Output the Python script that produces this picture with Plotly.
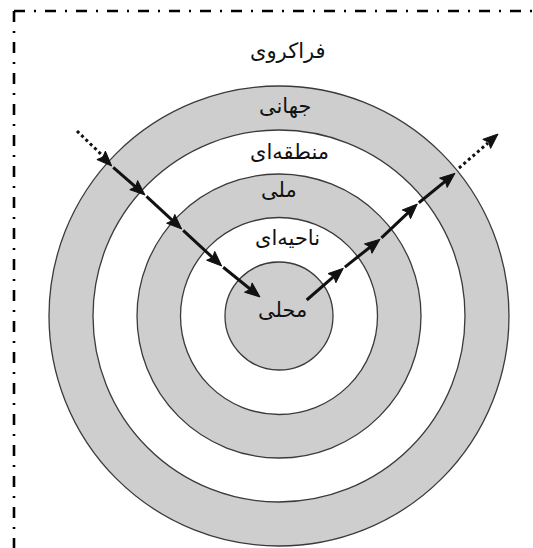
import math
import plotly.graph_objects as go

# ---------------- data ----------------
W, H = 533, 548
center = (279, 316)
ring_radii = [230, 186, 142, 98.5, 54]          # outer -> inner circle radius (px units)
ring_fills = ["#cecece", "#ffffff", "#cecece", "#ffffff", "#cecece"]

labels = ["فراکروی", "جهانی", "منطقه‌ای", "ملی", "ناحیه‌ای", "محلی"]
label_x = [288, 285, 289, 279, 287, 282]
label_y = [51, 106, 152, 190, 238, 310]

# inward path (top-left -> centre)
in_dot_x = [77, 104]
in_dot_y = [131, 157]
in_tip_x = [111.7, 145, 181.7, 221.7, 260]
in_tip_y = [166, 195, 229, 266, 297]

# outward path (centre -> top-right)
out_start_x = [306.7]
out_start_y = [300]
out_tip_x = [343.3, 380, 417.3, 455]
out_tip_y = [268.3, 239.3, 204, 173.3]
out_dot_x = [459, 488]
out_dot_y = [168, 143]
out_head_x = [498]
out_head_y = [134]

border_top_y = 11
border_left_x = 14

HEAD_LEN, HEAD_HALF, NOTCH = 15, 6, 2.5
LINE_W = 3

# ---------------- figure ----------------
fig = go.Figure()
shapes = []
cx, cy = center
for r, f in zip(ring_radii, ring_fills):
    shapes.append(dict(type="circle", xref="x", yref="y",
                       x0=cx - r, x1=cx + r, y0=cy - r, y1=cy + r,
                       fillcolor=f, line=dict(color="#3a3a3a", width=1.3),
                       layer="below"))

dashdot = "11px,9px,2px,9px"
shapes.append(dict(type="line", xref="x", yref="y", x0=border_left_x, x1=W,
                   y0=border_top_y, y1=border_top_y,
                   line=dict(color="#000", width=2.6, dash=dashdot)))
shapes.append(dict(type="line", xref="x", yref="y", x0=border_left_x, x1=border_left_x,
                   y0=border_top_y, y1=H,
                   line=dict(color="#000", width=2.6, dash=dashdot)))

# dotted lead-in / lead-out lines
for xs, ys in ((in_dot_x, in_dot_y), (out_dot_x, out_dot_y)):
    fig.add_trace(go.Scatter(x=xs, y=ys, mode="lines",
                             line=dict(color="#111", width=3, dash="dot"),
                             hoverinfo="skip", showlegend=False))

seg_x, seg_y = [], []
head_x, head_y = [], []


def unit(x0, y0, x1, y1):
    dx, dy = x1 - x0, y1 - y0
    L = math.hypot(dx, dy)
    return dx / L, dy / L


def add_head(px, py, tx, ty):
    ux, uy = unit(px, py, tx, ty)
    nx, ny = -uy, ux
    bx, by = tx - ux * HEAD_LEN, ty - uy * HEAD_LEN
    mx, my = tx - ux * (HEAD_LEN - NOTCH), ty - uy * (HEAD_LEN - NOTCH)
    head_x.extend([tx, bx + nx * HEAD_HALF, mx, bx - nx * HEAD_HALF, tx, None])
    head_y.extend([ty, by + ny * HEAD_HALF, my, by - ny * HEAD_HALF, ty, None])


def add_seg(x0, y0, x1, y1, gap=2.0):
    ux, uy = unit(x0, y0, x1, y1)
    seg_x.extend([x0 + ux * gap, x1 - ux * 6, None])
    seg_y.extend([y0 + uy * gap, y1 - uy * 6, None])
    add_head(x0, y0, x1, y1)


# inward
add_head(in_dot_x[0], in_dot_y[0], in_tip_x[0], in_tip_y[0])
for i in range(1, len(in_tip_x)):
    add_seg(in_tip_x[i - 1], in_tip_y[i - 1], in_tip_x[i], in_tip_y[i])

# outward
add_seg(out_start_x[0], out_start_y[0], out_tip_x[0], out_tip_y[0], gap=0)
for i in range(1, len(out_tip_x)):
    add_seg(out_tip_x[i - 1], out_tip_y[i - 1], out_tip_x[i], out_tip_y[i])
add_head(out_dot_x[0], out_dot_y[0], out_head_x[0], out_head_y[0])

fig.add_trace(go.Scatter(x=seg_x, y=seg_y, mode="lines",
                         line=dict(color="#111", width=LINE_W),
                         hoverinfo="skip", showlegend=False))
fig.add_trace(go.Scatter(x=head_x, y=head_y, mode="lines", fill="toself",
                         fillcolor="#111", line=dict(color="#111", width=1),
                         hoverinfo="skip", showlegend=False))

annotations = []
for t, x, y in zip(labels, label_x, label_y):
    annotations.append(dict(x=x, y=y, xref="x", yref="y", text=t, showarrow=False,
                            font=dict(family="DejaVu Sans", size=21, color="#111")))

fig.update_layout(
    width=W, height=H, autosize=False,
    margin=dict(l=0, r=0, t=0, b=0, pad=0),
    paper_bgcolor="white", plot_bgcolor="white",
    xaxis=dict(range=[0, W], visible=False, fixedrange=True),
    yaxis=dict(range=[H, 0], visible=False, fixedrange=True),
    shapes=shapes, annotations=annotations,
    showlegend=False,
)

fig.write_html("out.html", config={"displayModeBar": False},
               post_script="document.body.style.margin='0';document.body.style.overflow='hidden';")
